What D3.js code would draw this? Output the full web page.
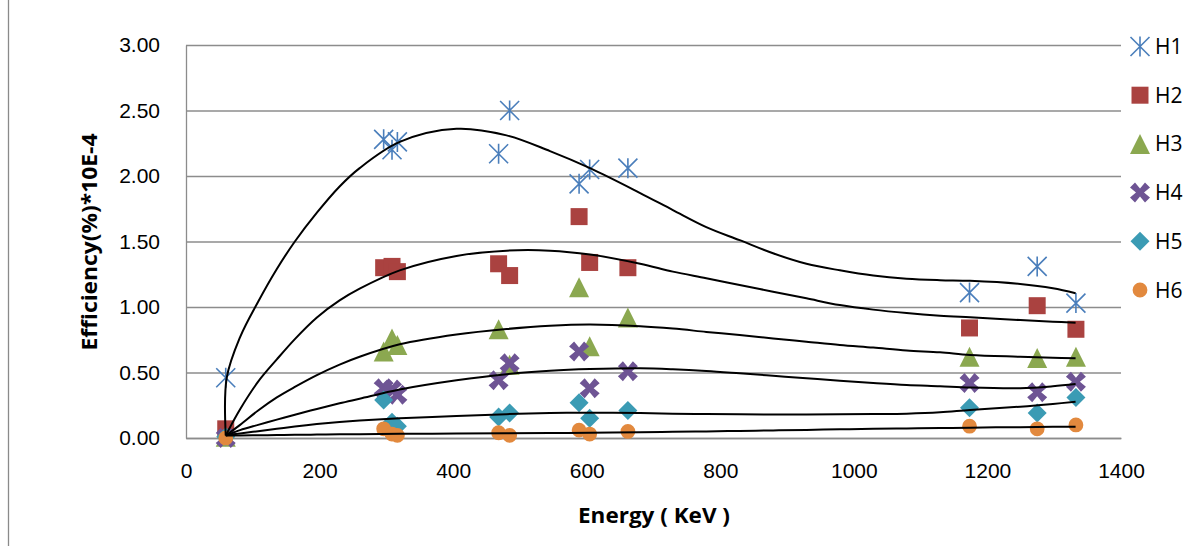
<!DOCTYPE html>
<html>
<head>
<meta charset="utf-8">
<script src="https://cdn.jsdelivr.net/npm/d3@7"></script>
<style>
  body { margin: 0; background: #fff; }
  svg { display: block; font-family: "Open Sans", "Liberation Sans", sans-serif; }
</style>
</head>
<body>
<svg width="1196" height="546"></svg>
<script>
// gamma line energies (KeV)
var energies = [59.5, 295.96, 308.46, 316.51, 468.07, 484.58, 588.58, 604.41, 661.66, 1173.2, 1274.5, 1332.5];

var seriesNames = ["H1", "H2", "H3", "H4", "H5", "H6"];

var H1 = [0.46, 2.28, 2.20, 2.26, 2.17, 2.50, 1.94, 2.05, 2.06, 1.11, 1.31, 1.03];
var H2 = [0.07, 1.30, 1.31, 1.27, 1.33, 1.24, 1.69, 1.34, 1.30, 0.84, 1.01, 0.83];
var H3 = [0.01, 0.66, 0.76, 0.71, 0.83, 0.56, 1.15, 0.70, 0.92, 0.62, 0.61, 0.62];
var H4 = [0.00, 0.38, 0.37, 0.33, 0.44, 0.57, 0.66, 0.38, 0.51, 0.42, 0.35, 0.43];
var H5 = [0.01, 0.29, 0.12, 0.09, 0.16, 0.19, 0.27, 0.15, 0.21, 0.23, 0.19, 0.31];
var H6 = [0.00, 0.07, 0.03, 0.02, 0.04, 0.02, 0.06, 0.03, 0.05, 0.09, 0.07, 0.10];

// trendline values
var trendEnergy = [59.5, 61, 81, 108, 136, 163, 196, 230, 260, 320, 405, 480, 545, 605, 680, 729, 779, 829, 879, 929, 979, 1029, 1079, 1129, 1174, 1249, 1298, 1332];
var trendH1 = [0.02, 0.46, 0.77, 1.04, 1.29, 1.50, 1.72, 1.92, 2.06, 2.26, 2.36, 2.31, 2.19, 2.06, 1.87, 1.74, 1.61, 1.51, 1.41, 1.33, 1.28, 1.24, 1.216, 1.205, 1.20, 1.176, 1.143, 1.105];
var trendH2 = [0.02, 0.035, 0.22, 0.43, 0.60, 0.755, 0.92, 1.05, 1.14, 1.28, 1.39, 1.43, 1.43, 1.40, 1.33, 1.27, 1.22, 1.168, 1.117, 1.066, 1.015, 0.98, 0.954, 0.934, 0.921, 0.90, 0.888, 0.88];
var trendH3 = [0.02, 0.025, 0.10, 0.21, 0.31, 0.39, 0.48, 0.56, 0.62, 0.715, 0.79, 0.832, 0.857, 0.866, 0.853, 0.835, 0.81, 0.786, 0.76, 0.735, 0.71, 0.69, 0.668, 0.654, 0.634, 0.62, 0.612, 0.608];
var trendH4 = [0.02, 0.022, 0.06, 0.10, 0.14, 0.178, 0.222, 0.265, 0.30, 0.37, 0.44, 0.487, 0.513, 0.526, 0.532, 0.525, 0.512, 0.494, 0.475, 0.456, 0.437, 0.42, 0.405, 0.395, 0.385, 0.38, 0.395, 0.412];
var trendH5 = [0.02, 0.021, 0.035, 0.052, 0.07, 0.088, 0.107, 0.123, 0.134, 0.15, 0.168, 0.182, 0.19, 0.193, 0.19, 0.186, 0.183, 0.181, 0.18, 0.18, 0.181, 0.183, 0.186, 0.196, 0.214, 0.239, 0.26, 0.277];
var trendH6 = [0.02, 0.02, 0.02, 0.021, 0.022, 0.024, 0.026, 0.028, 0.029, 0.032, 0.034, 0.036, 0.038, 0.04, 0.044, 0.047, 0.05, 0.054, 0.058, 0.062, 0.066, 0.07, 0.073, 0.076, 0.079, 0.083, 0.085, 0.086];

var xTicks = [0, 200, 400, 600, 800, 1000, 1200, 1400];
var yTicks = [0, 0.5, 1, 1.5, 2, 2.5, 3];

var efficiencyChart = {

    show : function() {
        var values = [H1, H2, H3, H4, H5, H6];
        var trends = [trendH1, trendH2, trendH3, trendH4, trendH5, trendH6];
        var data = seriesNames.map(function(name, i) {
            return {
                name: name,
                points: energies.map(function(e, j) { return {x: e, y: values[i][j]}; }),
                trend: trendEnergy.map(function(e, j) { return {x: e, y: trends[i][j]}; })
            };
        });
        efficiencyChart.dataViz(data);
    },

    colors : ["#4A7EBB", "#AA4240", "#8BA850", "#6E5494", "#3B9BB4", "#E2893E"],

    // marker shapes, Excel style
    markerPath : function(i) {
        if (i == 0) return "M-9.5,-9.5L9.5,9.5M-9.5,9.5L9.5,-9.5M0,-10L0,10";
        if (i == 1) return "M-8.5,-8.5H8.5V8.5H-8.5Z";
        if (i == 2) return "M0,-10L10,10L-10,10Z";
        if (i == 3) return "M-10,-5L-5,-10L0,-4L5,-10L10,-5L4,0L10,5L5,10L0,4L-5,10L-10,5L-4,0Z";
        if (i == 4) return "M0,-9.5L9.5,0L0,9.5L-9.5,0Z";
        return d3.symbol().type(d3.symbolCircle).size(Math.PI * 7.4 * 7.4)();
    },

    drawMarker : function(sel, i) {
        sel.append("path")
            .attr("d", efficiencyChart.markerPath(i))
            .style("fill", i == 0 ? "none" : efficiencyChart.colors[i])
            .style("stroke", i == 0 ? efficiencyChart.colors[0] : "none")
            .style("stroke-width", "1.6px");
    },

    dataViz : function(data) {
        var svg = d3.select("svg");

        var x = d3.scaleLinear().domain([0, 1400]).range([186, 1121]);
        var y = d3.scaleLinear().domain([0, 3]).range([438, 45]);

        // outer chart border (only the left edge is inside the picture)
        svg.append("line")
            .attr("x1", 8.5).attr("x2", 8.5)
            .attr("y1", 0).attr("y2", 546)
            .style("stroke", "#8a8a8a")
            .style("stroke-width", "1.3px");

        // gridlines
        svg.append("g")
            .attr("class", "grid")
            .attr("transform", "translate(186,0)")
            .call(d3.axisLeft(y).tickValues(yTicks).tickSize(-935).tickFormat(""))
            .call(function(g) { g.select(".domain").remove(); })
            .selectAll("line")
            .style("stroke", "#8c8c8c")
            .style("stroke-width", "1.3px");

        // y axis
        var yAxis = svg.append("g")
            .attr("transform", "translate(186,0)")
            .call(d3.axisLeft(y).tickValues(yTicks).tickSize(0).tickPadding(26).tickFormat(d3.format(".2f")));
        yAxis.select(".domain").style("stroke", "#8c8c8c").style("stroke-width", "1.3px");
        yAxis.selectAll("text")
            .style("font-size", "21px")
            .style("fill", "#000");

        // x axis
        var xAxis = svg.append("g")
            .attr("transform", "translate(0,438)")
            .call(d3.axisBottom(x).tickValues(xTicks).tickSize(0).tickPadding(25).tickFormat(d3.format("d")));
        xAxis.select(".domain").style("stroke", "#8c8c8c").style("stroke-width", "1.3px");
        xAxis.selectAll("text")
            .style("font-size", "21px")
            .style("fill", "#000");

        // axis titles
        svg.append("text")
            .attr("transform", "translate(97,242) rotate(-90)")
            .attr("textLength", 217)
            .attr("lengthAdjust", "spacingAndGlyphs")
            .style("text-anchor", "middle")
            .style("font-size", "21px")
            .style("font-weight", "bold")
            .text("Efficiency(%)*10E-4");

        svg.append("text")
            .attr("x", 654)
            .attr("y", 523)
            .attr("textLength", 152)
            .attr("lengthAdjust", "spacingAndGlyphs")
            .style("text-anchor", "middle")
            .style("font-size", "21px")
            .style("font-weight", "bold")
            .text("Energy ( KeV )");

        // markers
        data.forEach(function(s, i) {
            svg.append("g")
                .attr("class", "series")
                .selectAll("g")
                .data(s.points)
                .enter()
                .append("g")
                .attr("transform", function(d) { return "translate(" + x(d.x) + "," + y(d.y) + ")"; })
                .each(function() { efficiencyChart.drawMarker(d3.select(this), i); });
        });

        // trendlines on top
        var line = d3.line()
            .x(function(d) { return x(d.x); })
            .y(function(d) { return y(d.y); })
            .curve(d3.curveCatmullRom.alpha(0.5));

        svg.append("g")
            .selectAll("path")
            .data(data)
            .enter()
            .append("path")
            .attr("d", function(d) { return line(d.trend); })
            .style("fill", "none")
            .style("stroke", "#000")
            .style("stroke-width", "2px");

        // legend
        var legend = svg.append("g")
            .selectAll("g")
            .data(data)
            .enter()
            .append("g")
            .attr("transform", function(d, i) { return "translate(1140," + (46.5 + i * 48.7) + ")"; });

        legend.each(function(d, i) { efficiencyChart.drawMarker(d3.select(this), i); });

        legend.append("text")
            .attr("x", 15)
            .attr("dy", "0.36em")
            .style("font-size", "21px")
            .text(function(d) { return d.name; });
    }
};

efficiencyChart.show();
</script>
</body>
</html>
